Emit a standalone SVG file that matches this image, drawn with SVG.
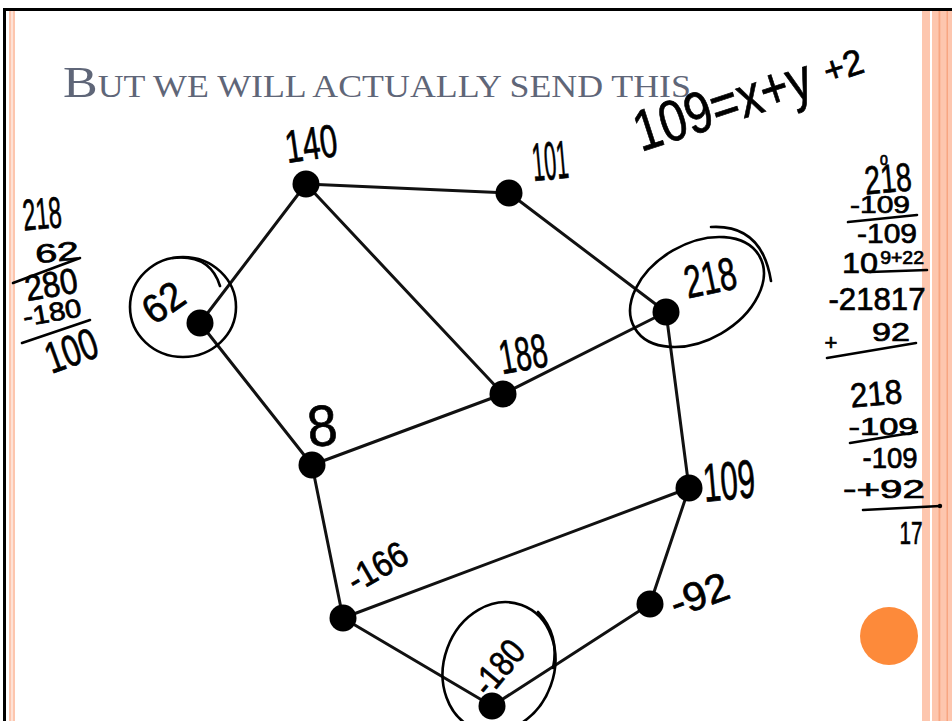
<svg xmlns="http://www.w3.org/2000/svg" width="952" height="721" viewBox="0 0 952 721">
<style>
.edge{stroke:#111;stroke-width:3;fill:none;stroke-linecap:round}
.node{fill:#000}
.hw{font-family:"Liberation Sans","DejaVu Sans",sans-serif;fill:#000;stroke:#000;stroke-width:0.7}
.ink{stroke:#000;stroke-width:2.6;fill:none;stroke-linecap:round}
.pink{fill:#fdc6ae}
.ostripe{fill:#f8a682}
</style>
<rect x="0" y="0" width="952" height="721" fill="#fff"/>
<g id="frame">
<rect x="3" y="8" width="949" height="3" fill="#000"/>
<rect x="3" y="8" width="3" height="713" fill="#000"/>
<rect class="pink" x="9" y="11" width="2.5" height="710"/>
<rect class="pink" x="12.5" y="11" width="2.5" height="710"/>
<rect class="pink" x="922" y="11" width="8" height="710"/>
<rect class="pink" x="932" y="11" width="20" height="710"/>
<rect class="ostripe" x="938.5" y="11" width="1.8" height="710"/>
<rect class="ostripe" x="946.5" y="11" width="1.5" height="710"/>
</g>
<g id="title">
<text x="63" y="97" fill="#5f6678" font-family="Liberation Serif,serif" textLength="628" lengthAdjust="spacingAndGlyphs"><tspan font-size="45">B</tspan><tspan font-size="31">UT WE WILL ACTUALLY SEND THIS</tspan></text>
</g>
<g id="edges">
<line class="edge" x1="306" y1="184" x2="509" y2="193"/>
<line class="edge" x1="306" y1="184" x2="200" y2="323"/>
<line class="edge" x1="306" y1="184" x2="503" y2="394"/>
<line class="edge" x1="509" y1="193" x2="666" y2="312"/>
<line class="edge" x1="200" y1="323" x2="312" y2="465"/>
<line class="edge" x1="312" y1="465" x2="503" y2="394"/>
<line class="edge" x1="503" y1="394" x2="666" y2="312"/>
<line class="edge" x1="666" y1="312" x2="689" y2="488"/>
<line class="edge" x1="312" y1="465" x2="343" y2="618"/>
<line class="edge" x1="343" y1="618" x2="689" y2="488"/>
<line class="edge" x1="689" y1="488" x2="650" y2="604"/>
<line class="edge" x1="343" y1="618" x2="492" y2="706"/>
<line class="edge" x1="492" y1="706" x2="650" y2="604"/>
</g>
<g id="n140"><circle class="node" cx="306" cy="184" r="13.5"/>
<text class="hw" font-size="46" text-anchor="middle" dy="0.36em" textLength="52" lengthAdjust="spacingAndGlyphs" transform="translate(311 143) rotate(-8)">140</text></g>
<g id="n101"><circle class="node" cx="509" cy="193" r="13.5"/>
<text class="hw" font-size="54" text-anchor="middle" dy="0.36em" textLength="36" lengthAdjust="spacingAndGlyphs" transform="translate(550 160) rotate(-5)">101</text></g>
<g id="n62"><circle class="node" cx="200" cy="323" r="13.5"/>
<text class="hw" font-size="40" text-anchor="middle" dy="0.36em" textLength="42" lengthAdjust="spacingAndGlyphs" transform="translate(163 302) rotate(-35)">62</text>
<ellipse class="ink" cx="183" cy="307" rx="53" ry="50"/>
<path class="ink" d="M173,258 Q210,254 220,286"/></g>
<g id="n218"><circle class="node" cx="666" cy="312" r="13.5"/>
<text class="hw" font-size="46" text-anchor="middle" dy="0.36em" textLength="52" lengthAdjust="spacingAndGlyphs" transform="translate(710 277) rotate(-12)">218</text>
<ellipse class="ink" cx="697" cy="292" rx="72" ry="48" transform="rotate(-30 697 292)"/>
<path class="ink" d="M711,227 Q762,224 771,281"/></g>
<g id="n188"><circle class="node" cx="503" cy="394" r="13.5"/>
<text class="hw" font-size="48" text-anchor="middle" dy="0.36em" textLength="48" lengthAdjust="spacingAndGlyphs" transform="translate(523 353) rotate(-10)">188</text></g>
<g id="n8"><circle class="node" cx="312" cy="465" r="13.5"/>
<text class="hw" font-size="58" text-anchor="middle" dy="0.36em" textLength="30" lengthAdjust="spacingAndGlyphs" transform="translate(322 425) rotate(-5)">8</text></g>
<g id="n109"><circle class="node" cx="689" cy="488" r="13.5"/>
<text class="hw" font-size="54" text-anchor="middle" dy="0.36em" textLength="52" lengthAdjust="spacingAndGlyphs" transform="translate(729 480) rotate(-5)">109</text></g>
<g id="n166"><circle class="node" cx="343" cy="618" r="13.5"/>
<text class="hw" font-size="36" text-anchor="middle" dy="0.36em" textLength="64" lengthAdjust="spacingAndGlyphs" transform="translate(377 566) rotate(-30)">-166</text></g>
<g id="n92"><circle class="node" cx="650" cy="604" r="13.5"/>
<text class="hw" font-size="40" text-anchor="middle" dy="0.36em" textLength="60" lengthAdjust="spacingAndGlyphs" transform="translate(699 594) rotate(-20)">-92</text></g>
<g id="n180"><circle class="node" cx="492" cy="706" r="13.5"/>
<text class="hw" font-size="36" text-anchor="middle" dy="0.36em" textLength="60" lengthAdjust="spacingAndGlyphs" transform="translate(498 667) rotate(-50)">-180</text>
<ellipse class="ink" cx="499" cy="667" rx="55" ry="66" transform="rotate(20 499 667)"/>
<path class="ink" d="M538,612 Q560,635 553,668"/></g>
<g id="equation">
<text class="hw" font-size="58" textLength="184" lengthAdjust="spacingAndGlyphs" transform="translate(641 152) rotate(-18)">109=x+y</text>
<text class="hw" font-size="36" textLength="40" lengthAdjust="spacingAndGlyphs" transform="translate(828 84) rotate(-18)">+2</text>
</g>
<g id="leftcalc">
<text class="hw" font-size="44" text-anchor="middle" dy="0.36em" textLength="39" lengthAdjust="spacingAndGlyphs" transform="translate(42 213) rotate(-5)">218</text>
<text class="hw" font-size="26" text-anchor="middle" dy="0.36em" textLength="44" lengthAdjust="spacingAndGlyphs" transform="translate(57 252) rotate(-5)">62</text>
<line class="ink" x1="13" y1="283" x2="80" y2="258"/>
<text class="hw" font-size="36" text-anchor="middle" dy="0.36em" textLength="53" lengthAdjust="spacingAndGlyphs" transform="translate(51 284) rotate(-10)">280</text>
<text class="hw" font-size="26" text-anchor="middle" dy="0.36em" textLength="59" lengthAdjust="spacingAndGlyphs" transform="translate(52 312) rotate(-10)">-180</text>
<line class="ink" x1="22" y1="343" x2="90" y2="320"/>
<text class="hw" font-size="44" text-anchor="middle" dy="0.36em" textLength="53" lengthAdjust="spacingAndGlyphs" transform="translate(71 350) rotate(-20)">100</text>
</g>
<g id="rightcalc">
<text class="hw" font-size="40" text-anchor="middle" dy="0.36em" textLength="47" lengthAdjust="spacingAndGlyphs" transform="translate(888 178) rotate(-5)">218</text>
<text class="hw" font-size="14" text-anchor="middle" dy="0.36em" transform="translate(884 160)">0</text>
<text class="hw" font-size="24" text-anchor="middle" dy="0.36em" textLength="60" lengthAdjust="spacingAndGlyphs" transform="translate(880 204)">-109</text>
<line class="ink" x1="848" y1="222" x2="917" y2="215"/>
<text class="hw" font-size="28" text-anchor="middle" dy="0.36em" textLength="60" lengthAdjust="spacingAndGlyphs" transform="translate(887 233)">-109</text>
<text class="hw" x="842" y="273" font-size="30" textLength="82" lengthAdjust="spacingAndGlyphs">10<tspan font-size="18" dx="2" dy="-9">9+22</tspan></text>
<line class="ink" x1="870" y1="272" x2="927" y2="270"/>
<text class="hw" font-size="32" text-anchor="middle" dy="0.36em" textLength="97" lengthAdjust="spacingAndGlyphs" transform="translate(877 298)">-21817</text>
<text class="hw" font-size="22" text-anchor="middle" dy="0.36em" transform="translate(831 342)">+</text>
<text class="hw" font-size="26" text-anchor="middle" dy="0.36em" textLength="38" lengthAdjust="spacingAndGlyphs" transform="translate(891 332)">92</text>
<line class="ink" x1="827" y1="358" x2="916" y2="343"/>
<text class="hw" font-size="34" text-anchor="middle" dy="0.36em" textLength="52" lengthAdjust="spacingAndGlyphs" transform="translate(876 393) rotate(-5)">218</text>
<text class="hw" font-size="24" text-anchor="middle" dy="0.36em" textLength="69" lengthAdjust="spacingAndGlyphs" transform="translate(883 426)">-109</text>
<line class="ink" x1="850" y1="443" x2="917" y2="432"/>
<text class="hw" font-size="30" text-anchor="middle" dy="0.36em" textLength="55" lengthAdjust="spacingAndGlyphs" transform="translate(890 457)">-109</text>
<text class="hw" font-size="26" text-anchor="middle" dy="0.36em" textLength="82" lengthAdjust="spacingAndGlyphs" transform="translate(884 489)">-+92</text>
<line class="ink" x1="863" y1="510" x2="940" y2="506"/>
<circle cx="940" cy="506" r="2.2" fill="#000"/>
<text class="hw" font-size="32" text-anchor="middle" dy="0.36em" textLength="23" lengthAdjust="spacingAndGlyphs" transform="translate(911 532)">17</text>
</g>
<g id="dot"><circle cx="889" cy="636" r="29" fill="#fd8a3a"/></g>
</svg>
